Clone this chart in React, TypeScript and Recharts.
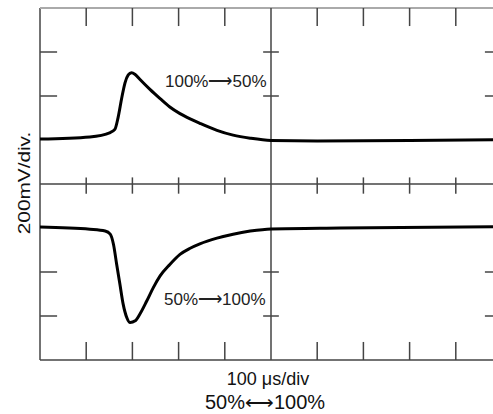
import React from "react";
import { LineChart, Line, XAxis, YAxis, ReferenceLine } from "recharts";

// top trace: 100% -> 50% load step (time in divisions, level in divisions)
const topTime = [0, 1.08, 1.52, 1.62, 1.69, 1.77, 1.84, 1.91, 1.98, 2.06, 2.16, 2.38, 2.6, 2.81, 3.03, 3.25, 3.46, 3.83, 4.18, 4.55, 5.0, 6.0, 8.0, 10.0];
const topLevel = [1.02, 1.07, 1.17, 1.24, 1.51, 1.96, 2.3, 2.48, 2.53, 2.49, 2.38, 2.15, 1.94, 1.75, 1.6, 1.48, 1.38, 1.22, 1.11, 1.04, 0.99, 0.98, 0.99, 1.01];

// bottom trace: 50% -> 100% load step
const bottomTime = [0, 1.08, 1.41, 1.52, 1.59, 1.66, 1.73, 1.8, 1.88, 1.95, 2.06, 2.16, 2.31, 2.45, 2.6, 2.81, 3.03, 3.25, 3.46, 3.83, 4.18, 4.55, 5.0, 6.5, 10.0];
const bottomLevel = [-0.98, -1.03, -1.07, -1.14, -1.37, -1.83, -2.28, -2.73, -3.04, -3.15, -3.11, -2.96, -2.66, -2.36, -2.09, -1.83, -1.6, -1.46, -1.36, -1.23, -1.14, -1.07, -1.02, -1.0, -0.97];

// graticule
const xDivs = [1, 2, 3, 4, 6, 7, 8, 9];
const yDivs = [-3, -2, 2, 3];

const topData = topTime.map((t, i) => ({ t, v: topLevel[i] }));
const bottomData = bottomTime.map((t, i) => ({ t, v: bottomLevel[i] }));

const GRID = "#444";
const FONT = "'Liberation Sans', Arial, sans-serif";

export default function App() {
  return (
    <div style={{ position: "absolute", left: 0, top: 0, width: 493, height: 414, overflow: "hidden", background: "#fff" }}>
      <LineChart width={510} height={414} margin={{ top: 8, right: 8, left: 40, bottom: 54 }}>
        <XAxis type="number" dataKey="t" domain={[0, 10]} hide allowDataOverflow />
        <YAxis type="number" dataKey="v" domain={[-4, 4]} hide allowDataOverflow />

        <ReferenceLine x={0} stroke={GRID} strokeWidth={1.5} />
        <ReferenceLine x={10} stroke={GRID} strokeWidth={1.5} />
        <ReferenceLine y={4} stroke="#aaa" strokeWidth={2} />
        <ReferenceLine y={-4} stroke={GRID} strokeWidth={1.5} />
        <ReferenceLine x={5} stroke={GRID} strokeWidth={1.5} />
        <ReferenceLine y={0} stroke={GRID} strokeWidth={1.5} />

        {xDivs.map((x) => (
          <ReferenceLine key={`t${x}`} segment={[{ x, y: 4 }, { x, y: 3.59 }]} stroke={GRID} strokeWidth={1.5} />
        ))}
        {xDivs.map((x) => (
          <ReferenceLine key={`b${x}`} segment={[{ x, y: -4 }, { x, y: -3.59 }]} stroke={GRID} strokeWidth={1.5} />
        ))}
        {xDivs.map((x) => (
          <ReferenceLine key={`c${x}`} segment={[{ x, y: -0.22 }, { x, y: 0.15 }]} stroke={GRID} strokeWidth={1.5} />
        ))}
        {yDivs.map((y) => (
          <ReferenceLine key={`l${y}`} segment={[{ x: 0, y }, { x: 0.37, y }]} stroke={GRID} strokeWidth={1.5} />
        ))}
        {yDivs.map((y) => (
          <ReferenceLine key={`r${y}`} segment={[{ x: 10, y }, { x: 9.63, y }]} stroke={GRID} strokeWidth={1.5} />
        ))}
        {yDivs.map((y) => (
          <ReferenceLine key={`m${y}`} segment={[{ x: 4.83, y }, { x: 5.17, y }]} stroke={GRID} strokeWidth={1.5} />
        ))}

        <Line data={topData} dataKey="v" type="monotone" stroke="#000" strokeWidth={3} dot={false} isAnimationActive={false} />
        <Line data={bottomData} dataKey="v" type="monotone" stroke="#000" strokeWidth={3} dot={false} isAnimationActive={false} />

        <text x={165} y={87} fontFamily={FONT} fontSize={17} fill="#222">100%⟶50%</text>
        <text x={164} y={305} fontFamily={FONT} fontSize={17} fill="#222">50%⟶100%</text>
        <text x={268} y={385} textAnchor="middle" fontFamily={FONT} fontSize={18} fill="#111">100 μs/div</text>
        <text x={265} y={409} textAnchor="middle" fontFamily={FONT} fontSize={20} fill="#111">50%⟷100%</text>
        <text
          x={0}
          y={6}
          textAnchor="middle"
          transform="translate(24 183) rotate(-90) scale(1.3 1)"
          fontFamily={FONT}
          fontSize={16}
          fill="#111"
        >
          200mV/div.
        </text>
      </LineChart>
    </div>
  );
}
